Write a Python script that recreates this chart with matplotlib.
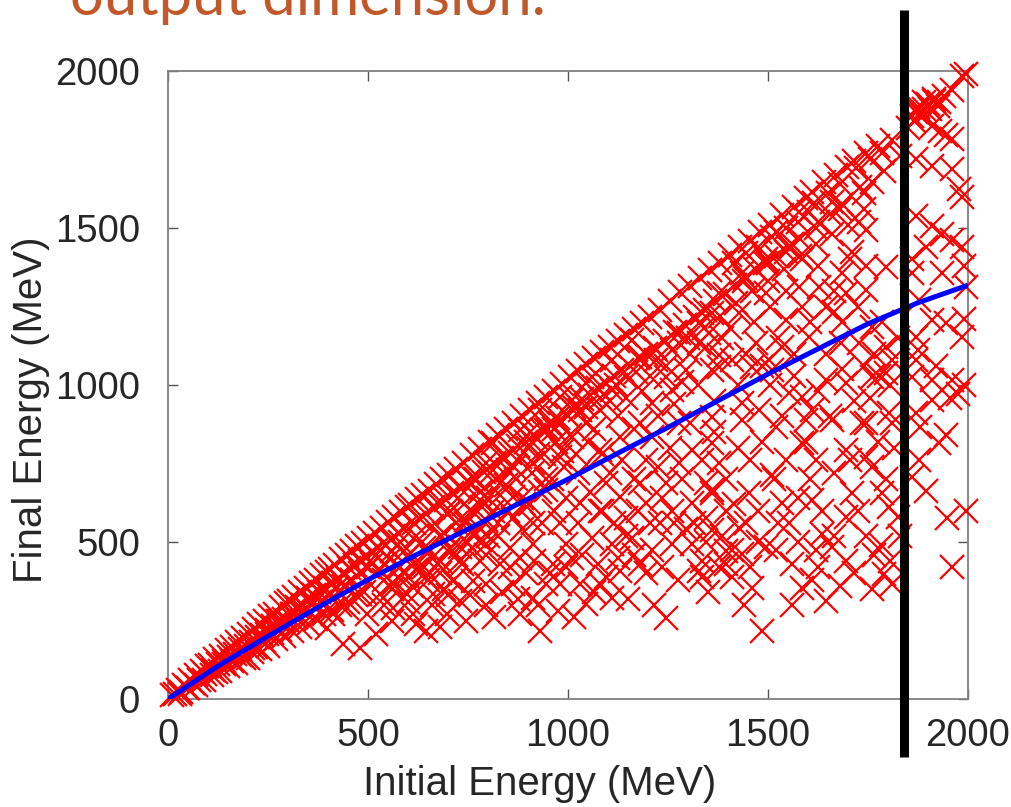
import matplotlib
matplotlib.use("Agg")
import matplotlib.pyplot as plt
from matplotlib.transforms import blended_transform_factory

# ---------------- data ----------------
# dense band along the upper edge (Final ~ Initial)
band_initial = [
    10, 18, 25, 32, 40, 47, 55, 62, 70, 78, 85, 92, 98,
    105, 112, 118, 125, 132, 140, 147, 153, 160, 167, 173, 180, 187, 194,
    202, 208, 215, 222, 228, 235, 242, 248, 255, 262, 268, 275, 282, 290, 296,
    303, 310, 316, 323, 330, 337, 344, 350, 357, 364, 371, 378, 385, 392, 398,
    405, 412, 418, 425, 432, 440, 447, 453, 460, 467, 473, 480, 487, 494,
    502, 510, 518, 526, 534, 542, 550, 558, 566, 574, 582, 590, 598,
    606, 614, 622, 630, 638, 646, 654, 662, 670, 678, 686, 694,
    702, 710, 720, 730, 740, 750, 760, 770, 780, 790,
    805, 815, 825, 835, 845, 855, 865, 875, 885, 895,
    905, 915, 925, 935, 945, 955, 965, 975, 985, 995,
    1005, 1015, 1025, 1035, 1045, 1055, 1065, 1075, 1085, 1095,
    1105, 1115, 1125, 1135, 1145, 1155, 1165, 1175, 1185, 1195,
    1205, 1218, 1230, 1242, 1255, 1268, 1280, 1292,
    1305, 1318, 1330, 1342, 1355, 1368, 1380, 1392,
    1405, 1418, 1430, 1442, 1455, 1468, 1480, 1492,
    1505, 1520, 1535, 1550, 1565, 1580, 1595,
    1610, 1625, 1640, 1655, 1670, 1685, 1698,
    1715, 1730, 1745, 1760, 1775, 1790,
    1810, 1830, 1850, 1865, 1870, 1880, 1875, 1890, 1905, 1915, 1925, 1940, 1960, 1985, 1995,
    1415, 1445, 1475, 1510, 1545, 1575, 1615, 1650, 1680, 1720, 1755, 1785,
    1440, 1500, 1560, 1620, 1680, 1740,
]
band_final = [
    12, 15, 28, 22, 44, 36, 60, 52, 75, 62, 88, 80, 104,
    108, 92, 127, 110, 136, 121, 155, 133, 167, 142, 180, 158, 193, 170,
    208, 180, 222, 196, 238, 205, 250, 220, 265, 232, 270, 248, 292, 255, 305,
    312, 272, 325, 292, 342, 300, 355, 322, 368, 330, 380, 340, 395, 352, 406,
    415, 368, 428, 386, 446, 395, 458, 418, 472, 428, 486, 440, 498, 452,
    512, 468, 530, 482, 545, 492, 565, 505, 580, 528, 596, 540, 610,
    618, 562, 636, 572, 650, 588, 664, 610, 684, 622, 700, 635,
    714, 655, 732, 672, 752, 690, 776, 702, 795, 722,
    820, 752, 842, 768, 860, 785, 880, 805, 902, 818,
    920, 842, 944, 858, 962, 880, 982, 895, 1002, 908,
    1025, 930, 1046, 955, 1066, 968, 1086, 990, 1106, 1005,
    1122, 1030, 1140, 1048, 1160, 1062, 1178, 1085, 1196, 1098,
    1215, 1118, 1240, 1140, 1268, 1170, 1295, 1192,
    1315, 1218, 1342, 1240, 1366, 1268, 1390, 1290,
    1414, 1318, 1440, 1342, 1460, 1368, 1486, 1388,
    1510, 1410, 1540, 1438, 1566, 1465, 1595,
    1615, 1518, 1645, 1545, 1670, 1575, 1695,
    1714, 1630, 1740, 1648, 1760, 1680,
    1780, 1730, 1820, 1840, 1870, 1860, 1885, 1900, 1880, 1905, 1890, 1920, 1940, 1985, 1990,
    1390, 1420, 1440, 1470, 1500, 1520, 1580, 1610, 1640, 1690, 1720, 1740,
    1330, 1390, 1450, 1500, 1560, 1610,
]

# points below the band, low energies
low_initial = [
    30, 50, 70, 90, 110, 130, 150, 170, 190, 210, 230, 250, 270, 290, 310, 330, 350, 370, 390, 410, 430, 450, 470, 490,
    120, 140, 160, 180, 200, 220, 240, 260, 280, 300, 320, 340, 360, 380, 400, 420, 440, 460, 480, 500,
    646, 437, 479, 521, 397, 412, 447, 497, 562, 612, 697, 729, 662, 597, 529, 479, 762, 712, 646, 562,
    362, 312, 280, 247, 212, 779, 729, 679, 629, 779, 729, 796, 746, 779,
    520, 540, 560, 580, 600, 620, 640, 660, 680, 700, 720, 740, 760, 780, 800,
    540, 580, 620, 660, 700, 740, 780, 560, 600, 640, 680, 720, 760, 800,
    820, 850, 880, 900, 920, 950, 980, 1000, 830, 870, 910, 940, 970, 850, 890, 930, 960, 990, 1020, 1050,
]
low_final = [
    15, 35, 45, 60, 75, 90, 105, 115, 130, 150, 160, 170, 190, 200, 215, 230, 240, 255, 270, 285, 300, 310, 330, 340,
    85, 110, 120, 140, 130, 165, 185, 210, 220, 250, 260, 280, 300, 310, 330, 350, 360, 380, 400, 420,
    217, 176, 163, 208, 227, 272, 291, 272, 291, 272, 272, 313, 335, 335, 335, 335, 377, 377, 387, 367,
    313, 272, 249, 208, 163, 441, 441, 441, 419, 505, 483, 569, 569, 633,
    460, 430, 470, 500, 460, 520, 480, 550, 520, 590, 560, 620, 600, 660, 640,
    380, 420, 410, 450, 470, 510, 540, 350, 390, 420, 400, 460, 480, 520,
    700, 730, 770, 800, 830, 860, 880, 900, 650, 700, 720, 780, 820, 600, 620, 660, 700, 740, 780, 820,
]

# points in the middle of the cloud
mid_initial = [
    796, 829, 862, 812, 796, 829, 796, 862, 912, 929, 879, 946, 962, 912, 996, 1011, 979, 1029, 946, 912,
    979, 1011, 946, 1046, 1079, 1011, 1111, 1146, 1079, 1129, 1179, 1211, 1261, 1246, 1296, 1278, 1328, 1353, 1361, 1278,
    1221, 1179, 1161, 1111, 1061, 1211, 1278, 1311, 1361, 1378, 1346, 1278, 1246, 1179, 1129, 1096, 1079, 1146, 1196, 1229,
    1261, 1311, 1361, 1396, 1361, 1311, 1261, 1211, 1161, 1111, 1061, 1129, 1079, 1046, 1111, 1246, 1179, 1328, 1396, 1411,
    812, 862, 879, 929, 979, 1046, 862, 912, 879, 979, 1029,
    1030, 1080, 1120, 1170, 1220, 1260, 1300, 1340, 1380, 1420, 1460, 1500, 1540, 1580, 1620, 1660, 1700, 1740,
]
mid_final = [
    751, 687, 642, 600, 495, 431, 367, 367, 323, 217, 272, 367, 431, 495, 495, 450, 559, 623, 665, 751,
    770, 834, 856, 879, 920, 952, 984, 1026, 792, 834, 879, 942, 984, 1026, 1048, 1166, 1198, 1166, 1048, 1134,
    1112, 1090, 1144, 1080, 1026, 834, 879, 792, 815, 751, 687, 751, 687, 687, 642, 687, 600, 578, 623, 559,
    600, 623, 665, 600, 537, 495, 495, 473, 514, 495, 514, 409, 367, 304, 323, 259, 431, 409, 431, 473,
    815, 792, 856, 920, 963, 1006, 578, 559, 450, 367, 367,
    920, 960, 1000, 1040, 1080, 1110, 1150, 1180, 1220, 1260, 1300, 1330, 1370, 1410, 1450, 1480, 1510, 1560,
]

# further points filling the cloud
fill_initial = [
    510, 530, 555, 575, 590, 615, 635, 655, 675, 690, 610, 650, 690, 540, 600, 660, 700, 560, 620, 680,
    705, 725, 745, 765, 785, 805, 825, 845, 865, 885, 705, 735, 765, 795, 825, 855, 885, 715, 755, 795,
    835, 875, 895, 745, 815, 855,
    905, 925, 945, 965, 985, 1005, 1025, 1045, 1065, 1085, 905, 935, 965, 995, 1025, 1055, 1085, 915, 955, 995,
    1035, 1075, 925, 975, 1015, 1065, 1095,
    1105, 1125, 1145, 1165, 1185, 1205, 1225, 1245, 1265, 1285, 1105, 1135, 1165, 1195, 1225, 1255, 1285, 1115, 1145, 1175,
    1205, 1235, 1265, 1295, 1125, 1165, 1195, 1235, 1275, 1215, 1150,
    1305, 1325, 1345, 1365, 1385, 1405, 1425, 1445, 1465, 1485, 1305, 1335, 1365, 1395, 1425, 1455, 1485, 1315, 1345, 1385,
    1415, 1445, 1475, 1335, 1395, 1455, 1475, 1350, 1440,
    1505, 1525, 1545, 1565, 1585, 1605, 1625, 1645, 1665, 1685, 1505, 1535, 1565, 1595, 1625, 1655, 1685, 1515, 1545, 1575,
    1605, 1635, 1665, 1695, 1525, 1575, 1625, 1665, 1695, 1560, 1610, 1680,
    1705, 1725, 1745, 1765, 1785, 1805, 1825, 1715, 1735, 1755, 1775, 1795, 1815, 1825, 1705, 1725, 1745, 1765, 1805, 1830,
    1715, 1760,
]
fill_final = [
    430, 410, 445, 390, 470, 430, 500, 470, 430, 530, 360, 380, 350, 300, 310, 300, 330, 250, 240, 230,
    600, 640, 560, 700, 610, 720, 560, 680, 740, 640, 480, 430, 520, 460, 520, 480, 540, 380, 330, 300,
    340, 320, 400, 250, 260, 420,
    850, 780, 700, 860, 790, 840, 720, 930, 860, 780, 620, 560, 600, 640, 560, 660, 600, 440, 400, 420,
    460, 430, 300, 280, 260, 340, 390,
    950, 900, 960, 860, 980, 1030, 900, 1060, 940, 1010, 720, 760, 700, 760, 740, 800, 700, 560, 520, 600,
    560, 640, 560, 540, 450, 460, 400, 420, 380, 300, 320,
    1100, 1000, 1120, 950, 1150, 1180, 1000, 1100, 1200, 1060, 880, 760, 850, 700, 800, 760, 820, 560, 500, 520,
    620, 560, 600, 440, 470, 420, 500, 340, 300,
    1250, 1150, 1300, 1100, 1250, 1200, 1380, 1100, 1300, 1200, 1000, 900, 1030, 820, 980, 900, 1050, 700, 760, 640,
    700, 600, 720, 580, 560, 500, 420, 520, 440, 300, 380, 360,
    1400, 1250, 1380, 1100, 1200, 1000, 1150, 950, 880, 960, 820, 700, 800, 580, 760, 600, 520, 460, 440, 520,
    400, 350,
]

# points at high initial energy, left of the cut
high_initial = [
    1661, 1728, 1711, 1603, 1586, 1521, 1496, 1645, 1696, 1745, 1795, 1760, 1728, 1795, 1683, 1603, 1546, 1471, 1503, 1436,
    1378, 1361, 1496, 1546, 1578, 1745, 1686, 1628, 1578, 1428, 1336, 1328, 1378, 1411, 1536, 1810, 1666, 1740, 1778, 1795,
    1785, 1803, 1783, 1790, 1810, 1645, 1486, 1586, 1461, 1411, 1378, 1336, 1661, 1621, 1521, 1496, 1561, 1436, 1636, 1553,
    1428, 1346, 1361, 1453, 1511, 1536, 1611, 1711, 1696, 1745, 1760, 1621, 1586, 1521, 1436, 1361, 1596, 1661, 1745, 1810,
    1803, 1760, 1645, 1696, 1553, 1511, 1436, 1478, 1378, 1461, 1586, 1611,
]
high_final = [
    1582, 1518, 1422, 1550, 1400, 1486, 1294, 1249, 1294, 1304, 1377, 1185, 1134, 1121, 1134, 1153, 1208, 1134, 1080, 1358,
    1294, 1230, 1400, 1422, 1550, 1495, 1358, 1313, 1313, 1230, 1230, 1134, 1096, 1080, 1121, 1080, 1233, 1060, 1030, 1038,
    655, 610, 489, 399, 367, 313, 217, 355, 355, 387, 419, 387, 483, 473, 473, 483, 431, 463, 527, 559,
    546, 578, 655, 655, 712, 623, 633, 655, 792, 770, 738, 760, 815, 866, 888, 898, 888, 888, 879, 879,
    911, 1026, 1016, 1006, 974, 1048, 942, 920, 1058, 1058, 963, 920,
]

# points right of the cut line
edge_initial = [
    1860, 1875, 1890, 1900, 1915, 1928, 1910, 1930, 1945, 1960, 1870, 1910, 1960, 1978, 1985, 1870, 1910, 1935, 1960, 1895,
    1985, 1990, 1860, 1860, 1935, 1995, 1878, 1910, 1945, 1985, 1870, 1875, 1870, 1860, 1910, 1910, 1960, 1955, 1870, 1880,
    1928, 1945, 1878, 1860, 1895, 1995, 1948, 1960, 1990, 1975, 1920, 1990,
]
edge_final = [
    1856, 1875, 1880, 1895, 1910, 1900, 1824, 1810, 1795, 1783, 1719, 1697, 1687, 1623, 1600, 1537, 1505, 1480, 1463, 1441,
    1441, 1380, 1400, 1358, 1358, 1313, 1272, 1208, 1198, 1153, 1153, 1110, 1080, 1026, 1016, 952, 1016, 960, 911, 866,
    815, 840, 760, 706, 664, 600, 575, 419, 1000, 970, 1060, 1210,
]

# fitted curve
fit_initial = [0, 125, 250, 375, 500, 625, 750, 875, 1000, 1125, 1250, 1375, 1500, 1625, 1750, 1875, 2000]
fit_final = [0, 105, 200, 292, 380, 462, 541, 621, 700, 783, 865, 950, 1035, 1115, 1195, 1262, 1318]

cut_energy = 1840
tick_values = [0, 500, 1000, 1500, 2000]
title_text = "output dimension."
x_label = "Initial Energy (MeV)"
y_label = "Final Energy (MeV)"

# ---------------- plot ----------------
W, H = 1011, 807
fig = plt.figure(figsize=(W / 100, H / 100), dpi=100)
ax = fig.add_axes([168 / W, 1 - 699 / H, 800 / W, 628 / H])

all_x = band_initial + low_initial + mid_initial + fill_initial + high_initial + edge_initial
all_y = band_final + low_final + mid_final + fill_final + high_final + edge_final
ax.plot(all_x, all_y, linestyle="none", marker="x", color="#ff0000",
        markersize=17, markeredgewidth=1.6, clip_on=False, zorder=3)
ax.plot(fit_initial, fit_final, color="#0000ff", linewidth=3.6,
        solid_capstyle="butt", zorder=4)

ax.set_xlim(0, 2000)
ax.set_ylim(0, 2000)
ax.set_xticks(tick_values)
ax.set_yticks(tick_values)
ax.set_xticklabels([str(v) for v in tick_values])
ax.set_yticklabels([str(v) for v in tick_values])

font = "Liberation Sans"
for spine in ax.spines.values():
    spine.set_color("#808080")
    spine.set_linewidth(1.3)
ax.tick_params(axis="both", which="both", direction="in", length=7, width=1.0,
               color="#555555", top=True, right=True, labelsize=27.5,
               labelcolor="#262626")
ax.tick_params(axis="x", pad=14)
ax.tick_params(axis="y", pad=20)
for lab in ax.get_xticklabels() + ax.get_yticklabels():
    lab.set_fontfamily(font)

ax.set_xlabel(x_label, fontsize=29, color="#262626", family=font)
ax.set_ylabel(y_label, fontsize=29, color="#262626", family=font)
ax.xaxis.set_label_coords(0.464, -0.105)
ax.yaxis.set_label_coords(-0.148, 0.46)

# vertical black cut line spanning beyond the axes
trans = blended_transform_factory(ax.transData, fig.transFigure)
ax.plot([cut_energy, cut_energy], [1 - 10 / H, 1 - 757 / H], color="black",
        linewidth=6.5, transform=trans, clip_on=False, solid_capstyle="butt", zorder=6)

fig.text(70 / W, 1 - 15 / H, title_text, color="#c0582a", fontsize=43,
         family="Lato", ha="left", va="baseline")

fig.savefig("out.png", dpi=100, facecolor="white")
